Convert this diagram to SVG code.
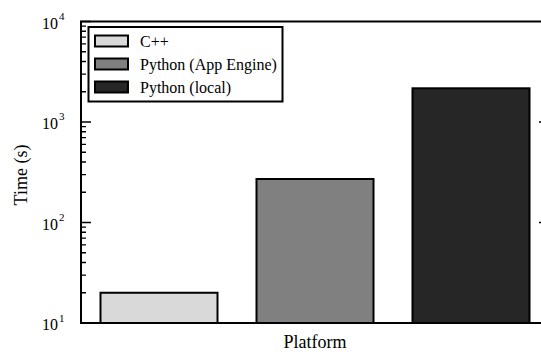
<svg xmlns="http://www.w3.org/2000/svg" width="541" height="352" viewBox="0 0 541 352">
  <style>
    text { font-family: "Liberation Serif", "Times New Roman", serif; fill: #000; }
    .lbl { font-size: 16px; }
    .title { font-size: 18px; }
    .tick { font-size: 16px; }
    .sup { font-size: 11px; }
    .bar { stroke: #000; stroke-width: 2; }
    .spine { stroke: #000; stroke-width: 2; fill: none; }
    .major { stroke: #000; stroke-width: 1.6; }
    .minor { stroke: #000; stroke-width: 1.3; }
  </style>
  <rect width="541" height="352" fill="#fff"/>

  <!-- bars: log scale, 10^1 at y=323, 100.5 px per decade -->
  <g id="bars">
    <rect id="bar-cpp" class="bar" x="100.5" y="292.75" width="117" height="30.25" fill="#d9d9d9"/>
    <rect id="bar-appengine" class="bar" x="256.5" y="179" width="117" height="144" fill="#808080"/>
    <rect id="bar-local" class="bar" x="412.5" y="88.3" width="117" height="234.7" fill="#262626"/>
  </g>

  <!-- y ticks, left and right sides -->
  <g id="ticks">
    <path class="major" d="M81 323H91M81 222.5H91M81 122H91M81 21.5H91M549 222.5H539M549 122H539"/>
    <path class="minor" d="M81 292.75H86M81 275.05H86M81 262.49H86M81 252.75H86M81 244.8H86M81 238.07H86M81 232.24H86M81 227.1H86
                           M81 192.25H86M81 174.55H86M81 161.99H86M81 152.25H86M81 144.3H86M81 137.57H86M81 131.74H86M81 126.6H86
                           M81 91.75H86M81 74.05H86M81 61.49H86M81 51.75H86M81 43.8H86M81 37.07H86M81 31.24H86M81 26.1H86"/>
  </g>

  <!-- axes frame -->
  <g id="axes">
    <path class="spine" d="M549 21.5H81V323H549"/>
  </g>

  <!-- y tick labels -->
  <g id="ytick-labels">
    <text class="tick" x="58" y="28.5" text-anchor="end">10</text><text class="sup" x="59" y="19.5">4</text>
    <text class="tick" x="58" y="129" text-anchor="end">10</text><text class="sup" x="59" y="120">3</text>
    <text class="tick" x="58" y="229.5" text-anchor="end">10</text><text class="sup" x="59" y="220.5">2</text>
    <text class="tick" x="58" y="330" text-anchor="end">10</text><text class="sup" x="59" y="322">1</text>
  </g>

  <!-- axis titles -->
  <g id="axis-titles">
    <text class="title" x="315" y="348" text-anchor="middle">Platform</text>
    <text class="title" transform="translate(27 175) rotate(-90)" text-anchor="middle">Time (s)</text>
  </g>

  <!-- legend -->
  <g id="legend">
    <rect x="88.5" y="27" width="194" height="74.5" fill="#fff" stroke="#000" stroke-width="2"/>
    <g id="legend-cpp">
      <rect class="bar" x="95" y="35.5" width="33" height="11" fill="#d9d9d9"/>
      <text class="lbl" x="140" y="46.5">C++</text>
    </g>
    <g id="legend-appengine">
      <rect class="bar" x="95" y="58.5" width="33" height="11" fill="#808080"/>
      <text class="lbl" x="140" y="69.5">Python (App Engine)</text>
    </g>
    <g id="legend-local">
      <rect class="bar" x="95" y="81.5" width="33" height="11" fill="#262626"/>
      <text class="lbl" x="140" y="92.5">Python (local)</text>
    </g>
  </g>
</svg>
